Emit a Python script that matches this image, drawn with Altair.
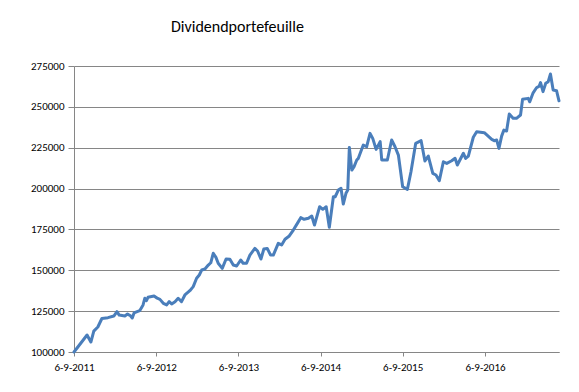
import altair as alt
import pandas as pd

dates = [
    "2011-09-06", "2011-11-03", "2011-11-20", "2011-12-03", "2011-12-21", "2012-01-08",
    "2012-02-04", "2012-03-01", "2012-03-15", "2012-03-25", "2012-04-19", "2012-05-01",
    "2012-05-14", "2012-05-22", "2012-05-30", "2012-06-24", "2012-07-09", "2012-07-17",
    "2012-07-24", "2012-07-31", "2012-08-27", "2012-09-10", "2012-09-22", "2012-10-07",
    "2012-10-22", "2012-11-02", "2012-11-13", "2012-11-28", "2012-12-12", "2012-12-27",
    "2013-01-11", "2013-02-02", "2013-02-17", "2013-03-04", "2013-03-16", "2013-03-27",
    "2013-04-10", "2013-04-25", "2013-05-06", "2013-05-17", "2013-05-29", "2013-06-08",
    "2013-06-26", "2013-07-13", "2013-07-30", "2013-08-14", "2013-08-29", "2013-09-16",
    "2013-09-27", "2013-10-12", "2013-10-27", "2013-11-18", "2013-11-30", "2013-12-15",
    "2013-12-28", "2014-01-12", "2014-01-27", "2014-02-08", "2014-03-02", "2014-03-17",
    "2014-04-01", "2014-04-20", "2014-05-08", "2014-05-26", "2014-06-10", "2014-06-25",
    "2014-07-14", "2014-07-29", "2014-08-10", "2014-09-02", "2014-09-16", "2014-10-01",
    "2014-10-15", "2014-11-02", "2014-11-10", "2014-11-24", "2014-12-06", "2014-12-16",
    "2014-12-28", "2015-01-05", "2015-01-12", "2015-01-23", "2015-02-02", "2015-02-14",
    "2015-02-21", "2015-03-15", "2015-03-30", "2015-04-14", "2015-04-26", "2015-05-11",
    "2015-05-29", "2015-06-05", "2015-06-30", "2015-07-19", "2015-08-03", "2015-08-18",
    "2015-09-06", "2015-09-27", "2015-10-13", "2015-11-03", "2015-11-27", "2015-12-14",
    "2015-12-29", "2016-01-18", "2016-02-01", "2016-02-16", "2016-03-05", "2016-03-20",
    "2016-04-11", "2016-04-26", "2016-05-06", "2016-06-02", "2016-06-12", "2016-06-24",
    "2016-07-16", "2016-07-31", "2016-09-03", "2016-10-06", "2016-10-17", "2016-10-28",
    "2016-11-07", "2016-11-19", "2016-11-29", "2016-12-11", "2016-12-23", "2017-01-09",
    "2017-01-24", "2017-02-11", "2017-02-20", "2017-03-17", "2017-03-24", "2017-04-08",
    "2017-04-23", "2017-05-05", "2017-05-11", "2017-05-22", "2017-06-03", "2017-06-14",
    "2017-06-24", "2017-07-06", "2017-07-21", "2017-08-01",
]

values = [
    100000, 110400, 106100, 112800, 115300, 120500,
    121000, 122000, 124700, 122600, 122000, 123200,
    122200, 120800, 123900, 125300, 128800, 132900,
    131400, 133500, 134300, 132900, 132200, 129800,
    128800, 130800, 129400, 130800, 132900, 130800,
    134900, 137500, 140000, 145100, 147100, 150200,
    150800, 153200, 154600, 160400, 157900, 154300,
    151200, 156900, 156700, 153200, 152600, 156300,
    154300, 154300, 159300, 163400, 161800, 156900,
    163000, 163400, 159300, 159300, 166500, 165500,
    169000, 171000, 174600, 178700, 182200, 181200,
    181800, 183200, 177700, 188900, 187300, 188900,
    176300, 195000, 195000, 199100, 200200, 190500,
    197100, 199100, 225200, 211300, 213400, 217500,
    218500, 226600, 225600, 233800, 230700, 224000,
    228700, 217500, 217500, 229700, 225600, 220500,
    201100, 199500, 210300, 227700, 229300, 216900,
    219900, 209300, 208300, 204800, 216400, 215400,
    217000, 218500, 214400, 221600, 218500, 219900,
    231400, 234800, 234200, 230100, 229300, 229700,
    224600, 232100, 235800, 235200, 245600, 243000,
    243000, 245000, 254600, 255200, 253100, 258600,
    261700, 262700, 264800, 259300, 264400, 265400,
    270100, 260300, 259900, 253700,
]

tick_years = [2011, 2012, 2013, 2014, 2015, 2016]
y_ticks = [100000, 125000, 150000, 175000, 200000, 225000, 250000, 275000]
title_text = "Dividendportefeuille"

df = pd.DataFrame({"datum": dates, "waarde": values})

font = "Calibri, Carlito, Lato"
grey = "#868686"

chart = (
    alt.Chart(df, title=alt.Title(title_text))
    .mark_line(color="#4A7EBB", strokeWidth=3, strokeJoin="round", strokeCap="round")
    .encode(
        x=alt.X(
            "datum:T",
            scale=alt.Scale(
                type="utc",
                domain=[alt.DateTime(year=2011, month=9, date=6, utc=True),
                        alt.DateTime(year=2017, month=8, date=1, utc=True)],
                nice=False,
            ),
            axis=alt.Axis(
                title=None,
                values=[alt.DateTime(year=y, month=9, date=6, utc=True) for y in tick_years],
                labelExpr="utcFormat(datum.value, '%-d-%-m-%Y')",
                grid=False,
                domainColor=grey,
                tickColor=grey,
                tickSize=4,
                labelPadding=5,
                labelFontSize=11,
                labelColor="#000000",
                labelFont=font,
                labelFlush=False,
                labelOverlap=False,
            ),
        ),
        y=alt.Y(
            "waarde:Q",
            scale=alt.Scale(domain=[100000, 275000], nice=False, zero=False),
            axis=alt.Axis(
                title=None,
                values=y_ticks,
                format="d",
                grid=True,
                gridColor=grey,
                domainColor=grey,
                tickColor=grey,
                tickSize=6,
                labelPadding=4,
                labelFontSize=11,
                labelColor="#000000",
                labelFont=font,
            ),
        ),
    )
    .properties(
        width=485,
        height=286,
        autosize="none",
        padding={"left": 66, "top": 58, "right": 12, "bottom": 28},
    )
    .configure_view(stroke=None)
    .configure_title(
        font=font,
        fontSize=16,
        fontWeight="normal",
        color="#000000",
        anchor="start",
        frame="group",
        dx=97,
        baseline="alphabetic",
        offset=25,
    )
    .configure_axis(domainWidth=1, tickWidth=1, gridWidth=1)
)

chart.save("out.html", embed_options={"renderer": "svg", "actions": False})
